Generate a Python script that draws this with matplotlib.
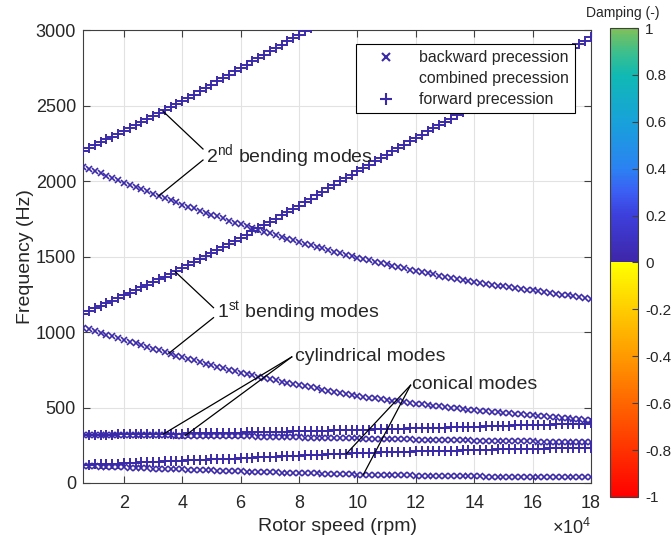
import numpy as np
import matplotlib
matplotlib.use("Agg")
import matplotlib.pyplot as plt
from matplotlib.colors import LinearSegmentedColormap, ListedColormap, Normalize
from matplotlib.lines import Line2D
import matplotlib.cm as cm

plt.rcParams['font.family'] = ['Liberation Sans', 'DejaVu Sans']
plt.rcParams['mathtext.fontset'] = 'custom'
plt.rcParams['mathtext.rm'] = 'Liberation Sans'
plt.rcParams['mathtext.it'] = 'Liberation Sans:italic'
plt.rcParams['text.color'] = '#262626'

# rotor speed (rpm), one sample every 2000 rpm
speed = np.arange(6000, 180001, 2000)

# 2nd bending, forward (leaves the chart near 8.2e4 rpm)
fwd2 = [2200, 2219, 2237, 2256, 2275, 2294, 2312, 2331,
        2351, 2370, 2390, 2410, 2429, 2449, 2468, 2488, 2507, 2527,
        2549, 2571, 2594, 2616, 2638, 2660, 2682, 2705, 2727, 2749,
        2771, 2793, 2815, 2837, 2860, 2882, 2904, 2926, 2948, 2970,
        2992, 3014]
# 2nd bending, backward
bwd2 = [2095, 2080, 2065, 2050, 2035, 2020, 2005, 1990,
        1975, 1961, 1946, 1932, 1917, 1902, 1888, 1873, 1859, 1844,
        1831, 1818, 1804, 1791, 1778, 1765, 1752, 1738, 1725, 1712,
        1700, 1689, 1677, 1665, 1654, 1642, 1630, 1618, 1607, 1595,
        1585, 1574, 1564, 1554, 1544, 1533, 1523, 1513, 1502, 1492,
        1483, 1474, 1465, 1456, 1448, 1439, 1430, 1421, 1412, 1403,
        1396, 1388, 1381, 1374, 1367, 1359, 1352, 1345, 1337, 1330,
        1325, 1319, 1314, 1308, 1303, 1297, 1292, 1286, 1281, 1275,
        1270, 1264, 1259, 1253, 1248, 1242, 1237, 1231, 1226, 1220]
# 1st bending, forward
fwd1 = [1121, 1138, 1156, 1173, 1190, 1207, 1225, 1242,
        1260, 1278, 1296, 1314, 1332, 1349, 1367, 1385, 1403, 1421,
        1441, 1461, 1482, 1502, 1522, 1542, 1562, 1582, 1603, 1623,
        1644, 1666, 1687, 1709, 1730, 1751, 1773, 1794, 1816, 1837,
        1860, 1883, 1905, 1928, 1951, 1974, 1997, 2019, 2042, 2065,
        2087, 2109, 2131, 2153, 2175, 2197, 2219, 2241, 2263, 2285,
        2307, 2328, 2350, 2371, 2393, 2414, 2436, 2457, 2479, 2500,
        2523, 2545, 2568, 2590, 2613, 2635, 2658, 2680, 2703, 2725,
        2748, 2770, 2793, 2816, 2839, 2861, 2884, 2907, 2929, 2952]
# 1st bending, backward
bwd1 = [1029, 1017, 1006, 994, 982, 971, 959, 947,
        936, 924, 913, 901, 890, 879, 867, 856, 844, 833,
        823, 812, 802, 791, 781, 771, 760, 750, 739, 729,
        721, 713, 705, 697, 689, 680, 672, 664, 656, 648,
        641, 634, 626, 619, 612, 605, 598, 590, 583, 576,
        571, 566, 561, 556, 551, 545, 540, 535, 530, 525,
        521, 516, 512, 507, 503, 499, 494, 490, 485, 481,
        478, 474, 471, 468, 465, 461, 458, 455, 451, 448,
        445, 441, 438, 435, 432, 428, 425, 422, 418, 415]
# cylindrical, forward / backward
fwd_cyl = [320, 320, 321, 321, 321, 321, 322, 322,
           322, 323, 323, 324, 324, 325, 325, 326, 326, 327,
           328, 328, 329, 330, 330, 331, 332, 332, 333, 334,
           335, 336, 337, 338, 338, 339, 340, 341, 342, 343,
           344, 345, 346, 347, 347, 348, 349, 350, 351, 352,
           353, 354, 355, 356, 357, 358, 359, 360, 361, 362,
           363, 364, 365, 366, 367, 369, 370, 371, 372, 373,
           374, 375, 376, 378, 379, 380, 381, 382, 383, 384,
           385, 386, 387, 389, 390, 391, 392, 393, 394, 395]
bwd_cyl = [319, 319, 319, 319, 318, 318, 318, 318,
           318, 317, 317, 317, 316, 316, 315, 315, 314, 314,
           314, 313, 313, 312, 312, 311, 311, 310, 310, 309,
           308, 308, 307, 306, 306, 305, 304, 304, 303, 302,
           301, 301, 300, 299, 299, 298, 297, 297, 296, 295,
           294, 294, 293, 292, 292, 291, 290, 290, 289, 288,
           287, 287, 286, 285, 285, 284, 283, 283, 282, 281,
           280, 280, 279, 279, 278, 278, 277, 276, 276, 275,
           274, 274, 273, 273, 272, 272, 271, 270, 270, 269]
# conical, forward / backward
fwd_con = [120, 121, 123, 124, 126, 127, 129, 130,
           132, 134, 136, 137, 139, 141, 143, 145, 146, 148,
           150, 151, 153, 154, 156, 158, 159, 161, 162, 164,
           166, 168, 169, 171, 173, 175, 177, 178, 180, 182,
           184, 185, 187, 188, 190, 191, 193, 194, 196, 197,
           198, 199, 200, 202, 203, 204, 205, 206, 208, 209,
           210, 211, 212, 213, 214, 214, 215, 216, 217, 218,
           219, 220, 221, 222, 223, 223, 224, 225, 226, 227,
           228, 228, 229, 230, 230, 231, 232, 232, 233, 234]
bwd_con = [112, 111, 110, 108, 107, 106, 104, 103,
           102, 100, 99, 98, 96, 95, 94, 92, 91, 90,
           89, 87, 86, 85, 84, 82, 81, 80, 78, 77,
           76, 75, 74, 73, 72, 70, 69, 68, 67, 66,
           65, 64, 63, 62, 61, 60, 59, 58, 57, 56,
           55, 55, 54, 53, 53, 52, 51, 51, 50, 49,
           49, 48, 48, 47, 47, 46, 46, 45, 45, 44,
           44, 43, 43, 43, 42, 42, 41, 41, 40, 40,
           40, 39, 39, 39, 38, 38, 38, 37, 37, 37]

forward = [fwd2, fwd1, fwd_cyl, fwd_con]
backward = [bwd2, bwd1, bwd_cyl, bwd_con]

xtick_vals = [20000, 40000, 60000, 80000, 100000, 120000, 140000, 160000, 180000]
xtick_labels = ['2', '4', '6', '8', '10', '12', '14', '16', '18']
ytick_vals = [0, 500, 1000, 1500, 2000, 2500, 3000]
cbar_ticks = [-1, -0.8, -0.6, -0.4, -0.2, 0, 0.2, 0.4, 0.6, 0.8, 1]

mark_col = '#3b2aa8'
txt_col = '#262626'

fig = plt.figure(figsize=(6.71, 5.39), dpi=100)
ax = fig.add_axes([0.1237, 0.1039, 0.7571, 0.8404])

for f in forward:
    ax.plot(speed[:len(f)], f, linestyle='none', marker='+', ms=7, mew=1.4, color=mark_col, zorder=3)
for b in backward:
    ax.plot(speed[:len(b)], b, linestyle='none', marker='x', ms=4, mew=1.2, color=mark_col, zorder=3)

ax.set_xlim(6000, 180000)
ax.set_ylim(0, 3000)
ax.set_xticks(xtick_vals)
ax.set_xticklabels(xtick_labels)
ax.set_yticks(ytick_vals)
ax.grid(True, color='#e2e2e2', lw=0.8)
ax.set_axisbelow(True)
ax.tick_params(direction='in', top=True, right=True, length=5, width=0.8,
               colors='#404040', labelcolor=txt_col, labelsize=13)
ax.tick_params(axis='x', pad=9)
ax.tick_params(axis='y', pad=5)
for s in ax.spines.values():
    s.set_color('#404040')
    s.set_linewidth(0.8)

ax.set_xlabel('Rotor speed (rpm)', fontsize=14, color=txt_col, labelpad=4)
ax.set_ylabel('Frequency (Hz)', fontsize=14, color=txt_col, labelpad=1)
ax.text(1.0, -0.113, r'$\mathregular{\times10^4}$', transform=ax.transAxes,
        ha='right', va='baseline', fontsize=13, color=txt_col)

# annotations
akw = dict(color='black', lw=0.9, zorder=4)
ax.plot([47100, 33400], [2212, 2462], **akw)
ax.plot([47100, 32000], [2139, 1902], **akw)
ax.text(48200, 2168, r'2$\mathregular{^{nd}}$ bending modes', fontsize=14, va='center', color=txt_col)

ax.plot([50700, 37600], [1161, 1399], **akw)
ax.plot([50700, 35400], [1095, 859], **akw)
ax.text(51800, 1128, r'1$\mathregular{^{st}}$ bending modes', fontsize=14, va='center', color=txt_col)

ax.plot([77500, 33600], [835, 325], **akw)
ax.plot([77500, 41000], [835, 314], **akw)
ax.text(78500, 835, 'cylindrical modes', fontsize=14, va='center', color=txt_col)

ax.plot([118200, 96200], [648, 194], **akw)
ax.plot([118200, 102000], [648, 55], **akw)
ax.text(118600, 652, 'conical modes', fontsize=14, va='center', color=txt_col)

handles = [Line2D([], [], linestyle='none', marker='x', ms=6, mew=1.5, color=mark_col),
           Line2D([], [], linestyle='none'),
           Line2D([], [], linestyle='none', marker='+', ms=9, mew=1.5, color=mark_col)]
leg = ax.legend(handles, ['backward precession', 'combined precession', 'forward precession'],
                loc='upper right', bbox_to_anchor=(0.9685, 0.969), borderaxespad=0,
                fontsize=11.4, frameon=True, fancybox=False, framealpha=1,
                handlelength=3.0, handletextpad=0.6, labelspacing=0.38, borderpad=0.38)
leg.get_frame().set_edgecolor('black')
leg.get_frame().set_linewidth(0.8)

# damping colour bar: autumn below zero, parula-like above
low = plt.get_cmap('autumn')(np.linspace(0, 1, 128))
high_cm = LinearSegmentedColormap.from_list('hi', [
    (0.0, '#3e26a8'), (0.2, '#3d3fdc'), (0.3, '#3b5ff3'), (0.4, '#2b82f2'),
    (0.6, '#18a1da'), (0.8, '#10b9b4'), (0.9, '#3cbf8d'), (1.0, '#7ec05a')])
high = high_cm(np.linspace(0, 1, 128))
cmap = ListedColormap(np.vstack([low, high]))
sm = cm.ScalarMappable(norm=Normalize(-1, 1), cmap=cmap)
cax = fig.add_axes([0.9091, 0.078, 0.0417, 0.870])
cb = fig.colorbar(sm, cax=cax, ticks=cbar_ticks)
cb.ax.set_yticklabels(['%g' % t for t in cbar_ticks])
cb.ax.tick_params(direction='in', length=4, width=0.8, colors='#404040',
                  labelcolor=txt_col, labelsize=11, pad=5)
cb.outline.set_edgecolor('#404040')
cb.outline.set_linewidth(0.8)
fig.text(0.928, 0.975, 'Damping (-)', ha='center', va='center', fontsize=10, color=txt_col)

fig.savefig('out.png', dpi=100)
